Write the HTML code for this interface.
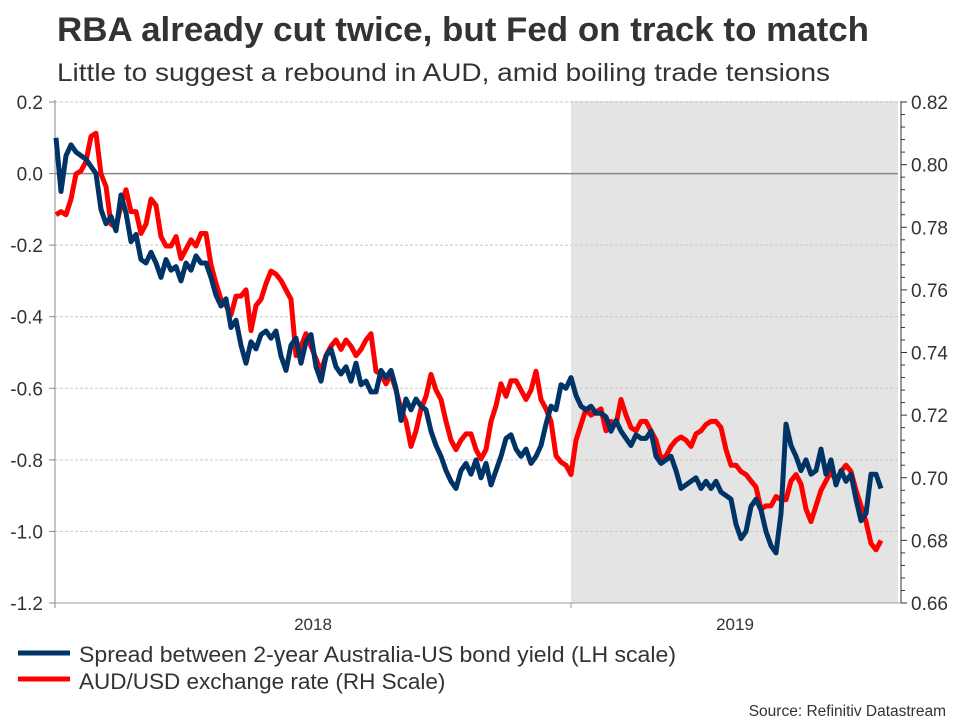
<!DOCTYPE html>
<html><head><meta charset="utf-8"><style>
body{margin:0;background:#fff;width:960px;height:720px;overflow:hidden;font-family:"Liberation Sans",Arial,sans-serif;}
svg text{font-family:"Liberation Sans",Arial,sans-serif;}
</style></head><body>
<svg id="chart" width="960" height="720">
<text x="57" y="41" font-size="34" font-weight="bold" fill="#333" textLength="812" lengthAdjust="spacingAndGlyphs">RBA already cut twice, but Fed on track to match</text>
<text x="57" y="81" font-size="25" fill="#333" textLength="773" lengthAdjust="spacingAndGlyphs">Little to suggest a rebound in AUD, amid boiling trade tensions</text>
<rect x="571" y="101" width="327" height="502" fill="#e4e4e4"/>
<g id="grid"></g>
<g id="axes"></g>
<g id="series"></g>
<line x1="18" y1="653" x2="70" y2="653" stroke="#003366" stroke-width="5"/>
<text x="79" y="662" font-size="22.5" fill="#333" textLength="597" lengthAdjust="spacingAndGlyphs">Spread between 2-year Australia-US bond yield (LH scale)</text>
<line x1="18" y1="679" x2="70" y2="679" stroke="#ff0000" stroke-width="5"/>
<text x="79" y="689" font-size="22.5" fill="#333">AUD/USD exchange rate (RH Scale)</text>
<text x="946" y="716" font-size="15.5" fill="#333" text-anchor="end">Source: Refinitiv Datastream</text>
</svg>
<script>
const leftTicks=[0.2,0.0,-0.2,-0.4,-0.6,-0.8,-1.0,-1.2];
const leftTickLabels=["0.2","0.0","-0.2","-0.4","-0.6","-0.8","-1.0","-1.2"];
const rightTicks=[0.82,0.80,0.78,0.76,0.74,0.72,0.70,0.68,0.66];
const rightTickLabels=["0.82","0.80","0.78","0.76","0.74","0.72","0.70","0.68","0.66"];
const yearLabels=["2018","2019"];
const spread=[0.10,-0.05,0.05,0.08,0.06,0.05,0.04,0.02,0.00,
-0.10,-0.14,-0.12,-0.16,-0.06,-0.11,-0.19,-0.17,-0.24,-0.25,-0.22,-0.25,-0.29,-0.24,-0.27,-0.26,-0.30,-0.25,-0.27,-0.23,-0.25,-0.25,-0.29,-0.34,-0.37,-0.35,-0.43,-0.41,-0.48,-0.53,-0.47,-0.49,-0.45,-0.44,-0.46,-0.44,-0.51,-0.55,-0.48,-0.46,-0.53,-0.47,-0.45,-0.54,-0.58,-0.51,-0.49,-0.54,-0.56,-0.54,-0.58,-0.53,-0.59,-0.58,-0.61,-0.61,-0.55,-0.57,-0.55,-0.60,-0.69,-0.63,-0.66,-0.63,-0.65,-0.66,-0.72,-0.76,-0.79,-0.83,-0.86,-0.88,-0.83,-0.81,-0.84,-0.80,-0.85,-0.81,-0.87,-0.83,-0.79,-0.74,-0.73,-0.77,-0.79,-0.77,-0.81,-0.79,-0.76,-0.70,-0.65,-0.66,-0.59,-0.60,-0.57,-0.62,-0.65,-0.66,-0.65,-0.67,-0.67,-0.68,-0.72,-0.69,-0.72,-0.74,-0.76,-0.73,-0.74,-0.74,-0.72,-0.79,-0.81,-0.80,-0.79,-0.83,-0.88,-0.87,-0.86,-0.85,-0.88,-0.86,-0.88,-0.86,-0.89,-0.90,-0.91,-0.98,-1.02,-1.00,-0.93,-0.91,-0.94,-1.00,-1.04,-1.06,-0.95,-0.70,-0.76,-0.79,-0.83,-0.80,-0.84,-0.83,-0.77,-0.84,-0.80,-0.87,-0.83,-0.86,-0.84,-0.91,-0.97,-0.95,-0.84,-0.84,-0.88];
const audusd=[0.784,0.785,0.784,0.789,0.797,0.798,0.801,0.809,0.810,0.797,0.793,0.781,0.780,0.787,0.792,0.785,0.785,0.778,0.781,0.789,0.787,0.777,0.774,0.774,0.777,0.770,0.773,0.776,0.774,0.778,0.778,0.768,0.762,0.757,0.755,0.752,0.758,0.758,0.760,0.747,0.755,0.757,0.762,0.766,0.765,0.763,0.760,0.757,0.739,0.742,0.746,0.742,0.738,0.734,0.739,0.742,0.744,0.741,0.744,0.742,0.739,0.741,0.744,0.746,0.734,0.733,0.730,0.733,0.728,0.722,0.718,0.710,0.715,0.722,0.726,0.733,0.728,0.725,0.718,0.712,0.709,0.712,0.714,0.714,0.709,0.706,0.709,0.718,0.723,0.730,0.726,0.731,0.731,0.728,0.725,0.728,0.734,0.725,0.722,0.718,0.707,0.705,0.704,0.701,0.712,0.717,0.722,0.720,0.721,0.722,0.715,0.718,0.717,0.725,0.720,0.716,0.715,0.718,0.718,0.715,0.712,0.706,0.707,0.710,0.712,0.713,0.712,0.710,0.714,0.715,0.717,0.718,0.718,0.716,0.709,0.704,0.704,0.702,0.701,0.699,0.697,0.690,0.691,0.691,0.694,0.693,0.693,0.699,0.701,0.698,0.690,0.686,0.691,0.696,0.699,0.702,0.699,0.702,0.704,0.702,0.696,0.691,0.686,0.679,0.677,0.680];

const NS='http://www.w3.org/2000/svg';
const X0=56,X1=881,TOP=102,BOT=603,AXL=55,AXR=901;
function yL(v){return TOP+(0.2-v)/1.4*(BOT-TOP);}
function yR(v){return TOP+(0.82-v)/0.16*(BOT-TOP);}
function xIdx(i,n){return X0+i*(X1-X0)/(n-1);}
function mk(tag,attrs,parent){const e=document.createElementNS(NS,tag);for(const k in attrs)e.setAttribute(k,attrs[k]);parent.appendChild(e);return e;}
const grid=document.getElementById('grid'),axes=document.getElementById('axes'),series=document.getElementById('series');

leftTicks.forEach((v,i)=>{
  const y=yL(v);
  const g=mk('line',{x1:AXL,x2:AXR-3,y1:y,y2:y,stroke:v===0?'#888':'#c8c8c8','stroke-width':v===0?1.5:1,'stroke-dasharray':v===0?'none':'3,2'},grid);
  
  
  const t=mk('line',{x1:AXL-6,x2:AXL,y1:y,y2:y,stroke:'#888'},axes);
  
  
  const l=mk('text',{x:AXL-12,y:y+7,'font-size':19,fill:'#333','text-anchor':'end'},axes);
  l.textContent=leftTickLabels[i];
  
  
});
const la=mk('line',{x1:AXL,x2:AXL,y1:TOP-2,y2:BOT+5,stroke:'#888'},axes);


const ra=mk('line',{x1:AXR,x2:AXR,y1:TOP-1,y2:BOT,stroke:'#333'},axes);


for(let k=0;k<=40;k++){
  const v=0.66+k*0.004;const y=yR(v);
  const mt=mk('line',{x1:AXR,x2:AXR+(k%5===0?6:4),y1:y,y2:y,stroke:'#333'},axes);
  
  
}
rightTicks.forEach((v,i)=>{
  const l=mk('text',{x:AXR+10,y:yR(v)+7,'font-size':19,fill:'#333'},axes);
  l.textContent=rightTickLabels[i];
  
  
});
const xa=mk('line',{x1:AXL,x2:AXR,y1:BOT,y2:BOT,stroke:'#999'},axes);


const xt=mk('line',{x1:571,x2:571,y1:BOT,y2:BOT+5,stroke:'#999'},axes);


[313,735].forEach((x,i)=>{
  const l=mk('text',{x:x,y:630,'font-size':17,fill:'#333','text-anchor':'middle'},axes);
  l.textContent=yearLabels[i];
  
  
});
function path(arr,yf,color,name){
  const d=arr.map((v,i)=>(i?'L':'M')+xIdx(i,arr.length).toFixed(1)+','+yf(v).toFixed(1)).join('');
  const p=mk('path',{d:d,fill:'none',stroke:color,'stroke-width':5,'stroke-linejoin':'round'},series);
  
  
}
path(audusd,yR,'#ff0000','audusd-line');
path(spread,yL,'#003366','spread-line');
</script>
</body></html>
